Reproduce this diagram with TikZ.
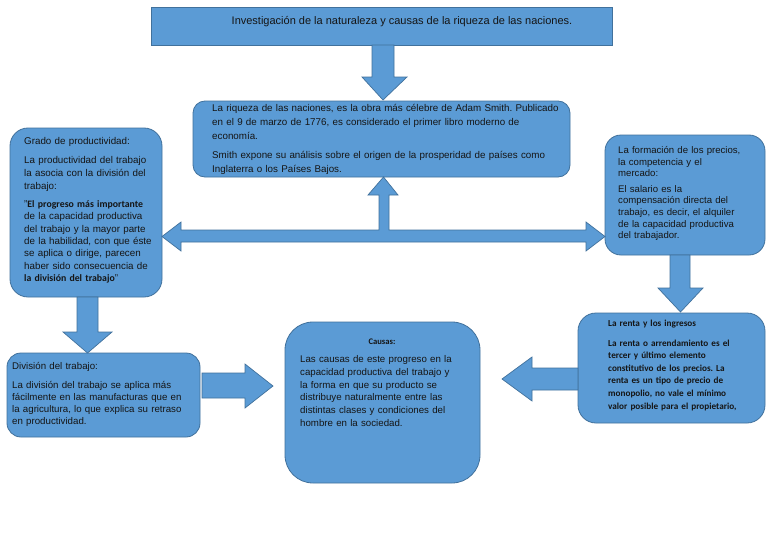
\documentclass[tikz,border=0pt]{standalone}
\usepackage{fontspec}
\setmainfont{Liberation Sans}
\newfontfamily\calib{Carlito}
\definecolor{boxblue}{HTML}{5B9BD5}
\definecolor{edgeblue}{HTML}{41719C}
\definecolor{txtcol}{HTML}{151515}
\tikzset{
  box/.style={draw=edgeblue, fill=boxblue, line width=0.8pt, inner sep=0pt},
  blockarrow/.style={draw=edgeblue, fill=boxblue, line width=0.7pt, line join=miter},
  txt/.style={anchor=base west, inner sep=0pt, align=left, text=txtcol},
}
\begin{document}
\frenchspacing
\begin{tikzpicture}[x=1pt,y=-1pt]
\useasboundingbox[fill=white] (0,0) rectangle (768,543);

% boxes
\node[box, minimum width=461pt, minimum height=38pt] (title) at (381.5,26) {};
\node[box, rounded corners=12pt, minimum width=377pt, minimum height=76pt] (central) at (381.5,139) {};
\node[box, rounded corners=18pt, minimum width=152pt, minimum height=169pt] (grado) at (86,212.5) {};
\node[box, rounded corners=16pt, minimum width=160pt, minimum height=120pt] (formacion) at (685,195) {};
\node[box, rounded corners=18pt, minimum width=187pt, minimum height=110pt] (renta) at (671.5,368) {};
\node[box, rounded corners=14pt, minimum width=193pt, minimum height=84pt] (division) at (103.5,395) {};
\node[box, rounded corners=28pt, minimum width=195pt, minimum height=161pt] (causas) at (382.5,402.5) {};

% block arrows
\draw[blockarrow] (372,45) -- (394,45) -- (394,77) -- (407,77) -- (383,100) -- (362,77) -- (372,77) -- cycle;
\draw[blockarrow] (181,230) -- (379,230) -- (379,195) -- (368,195) -- (383.5,177) -- (398,195) -- (389,195) -- (389,230)
  -- (586,230) -- (586,222) -- (605,236.5) -- (586,251) -- (586,242) -- (181,242) -- (181,251) -- (162,236.5) -- (181,222) -- cycle;
\draw[blockarrow] (77,297) -- (98,297) -- (98,332) -- (112,332) -- (87.5,353) -- (63,332) -- (77,332) -- cycle;
\draw[blockarrow] (202,373) -- (245,373) -- (245,364) -- (273,386) -- (245,408) -- (245,398) -- (202,398) -- cycle;
\draw[blockarrow] (670,255) -- (690,255) -- (690,288) -- (703,288) -- (680.5,312) -- (658,288) -- (670,288) -- cycle;
\draw[blockarrow] (578,368) -- (532,368) -- (532,357) -- (502,379) -- (532,401) -- (532,390) -- (578,390) -- cycle;

% texts
\node[anchor=center, inner sep=0pt, text=txtcol, font=\fontsize{11}{13}\selectfont] (titletxt) at (402,22)
  {Investigación de la naturaleza y causas de la riqueza de las naciones.};

\node[txt, text width=360pt, font=\fontsize{9.8}{14}\selectfont] (centraltxt) at (212,111.6)
  {La riqueza de las naciones, es la obra más célebre de Adam Smith. Publicado\\
   en el 9 de marzo de 1776, es considerado el primer libro moderno de\\
   economía.\\[5pt]
   Smith expone su análisis sobre el origen de la prosperidad de países como\\
   Inglaterra o los Países Bajos.};

\node[txt, text width=135pt, font=\fontsize{9.8}{12.4}\selectfont] (gradotxt) at (24,144.5)
  {Grado de productividad:\\[6.5pt]
   \makebox[127pt][s]{La productividad del trabajo}\\[0.6pt]
   \makebox[127pt][s]{la asocia con la división del}\\[0.6pt]
   trabajo:\\[5.5pt]
   \makebox[127pt][s]{"{\calib\bfseries El progreso más importante}}\\
   \makebox[127pt][s]{de la capacidad productiva}\\
   \makebox[127pt][s]{del trabajo y la mayor parte}\\
   \makebox[127pt][s]{de la habilidad, con que éste}\\
   \makebox[127pt][s]{se aplica o dirige, parecen}\\
   \makebox[127pt][s]{haber sido consecuencia de}\\
   {\calib\bfseries la división del trabajo}"};

\node[txt, text width=145pt, font=\fontsize{9.6}{11.7}\selectfont] (formaciontxt) at (618,153.5)
  {La formación de los precios,\\
   la competencia y el\\
   mercado:\\[3.5pt]
   El salario es la\\
   compensación directa del\\
   trabajo, es decir, el alquiler\\
   de la capacidad productiva\\
   del trabajador.};

\node[txt, text width=155pt, font=\calib\bfseries\fontsize{9.2}{12.6}\selectfont] (rentatxt) at (608,326)
  {La renta y los ingresos\\[7.4pt]
   La renta o arrendamiento es el\\
   tercer y último elemento\\
   constitutivo de los precios. La\\
   renta es un tipo de precio de\\
   monopolio, no vale el mínimo\\
   valor posible para el propietario,};

\node[anchor=center, inner sep=0pt, text=txtcol, font=\calib\bfseries\fontsize{8.6}{10}\selectfont] (causastitle) at (382,342) {Causas:};

\node[txt, text width=175pt, font=\fontsize{9.7}{12.8}\selectfont] (causastxt) at (300,362.5)
  {Las causas de este progreso en la\\
   capacidad productiva del trabajo y\\
   la forma en que su producto se\\
   distribuye naturalmente entre las\\
   distintas clases y condiciones del\\
   hombre en la sociedad.};

\node[txt, text width=185pt, font=\fontsize{9.7}{12}\selectfont] (divisiontxt) at (12,369.5)
  {División del trabajo:\\[7pt]
   La división del trabajo se aplica más\\
   fácilmente en las manufacturas que en\\
   la agricultura, lo que explica su retraso\\
   en productividad.};
\end{tikzpicture}
\end{document}
